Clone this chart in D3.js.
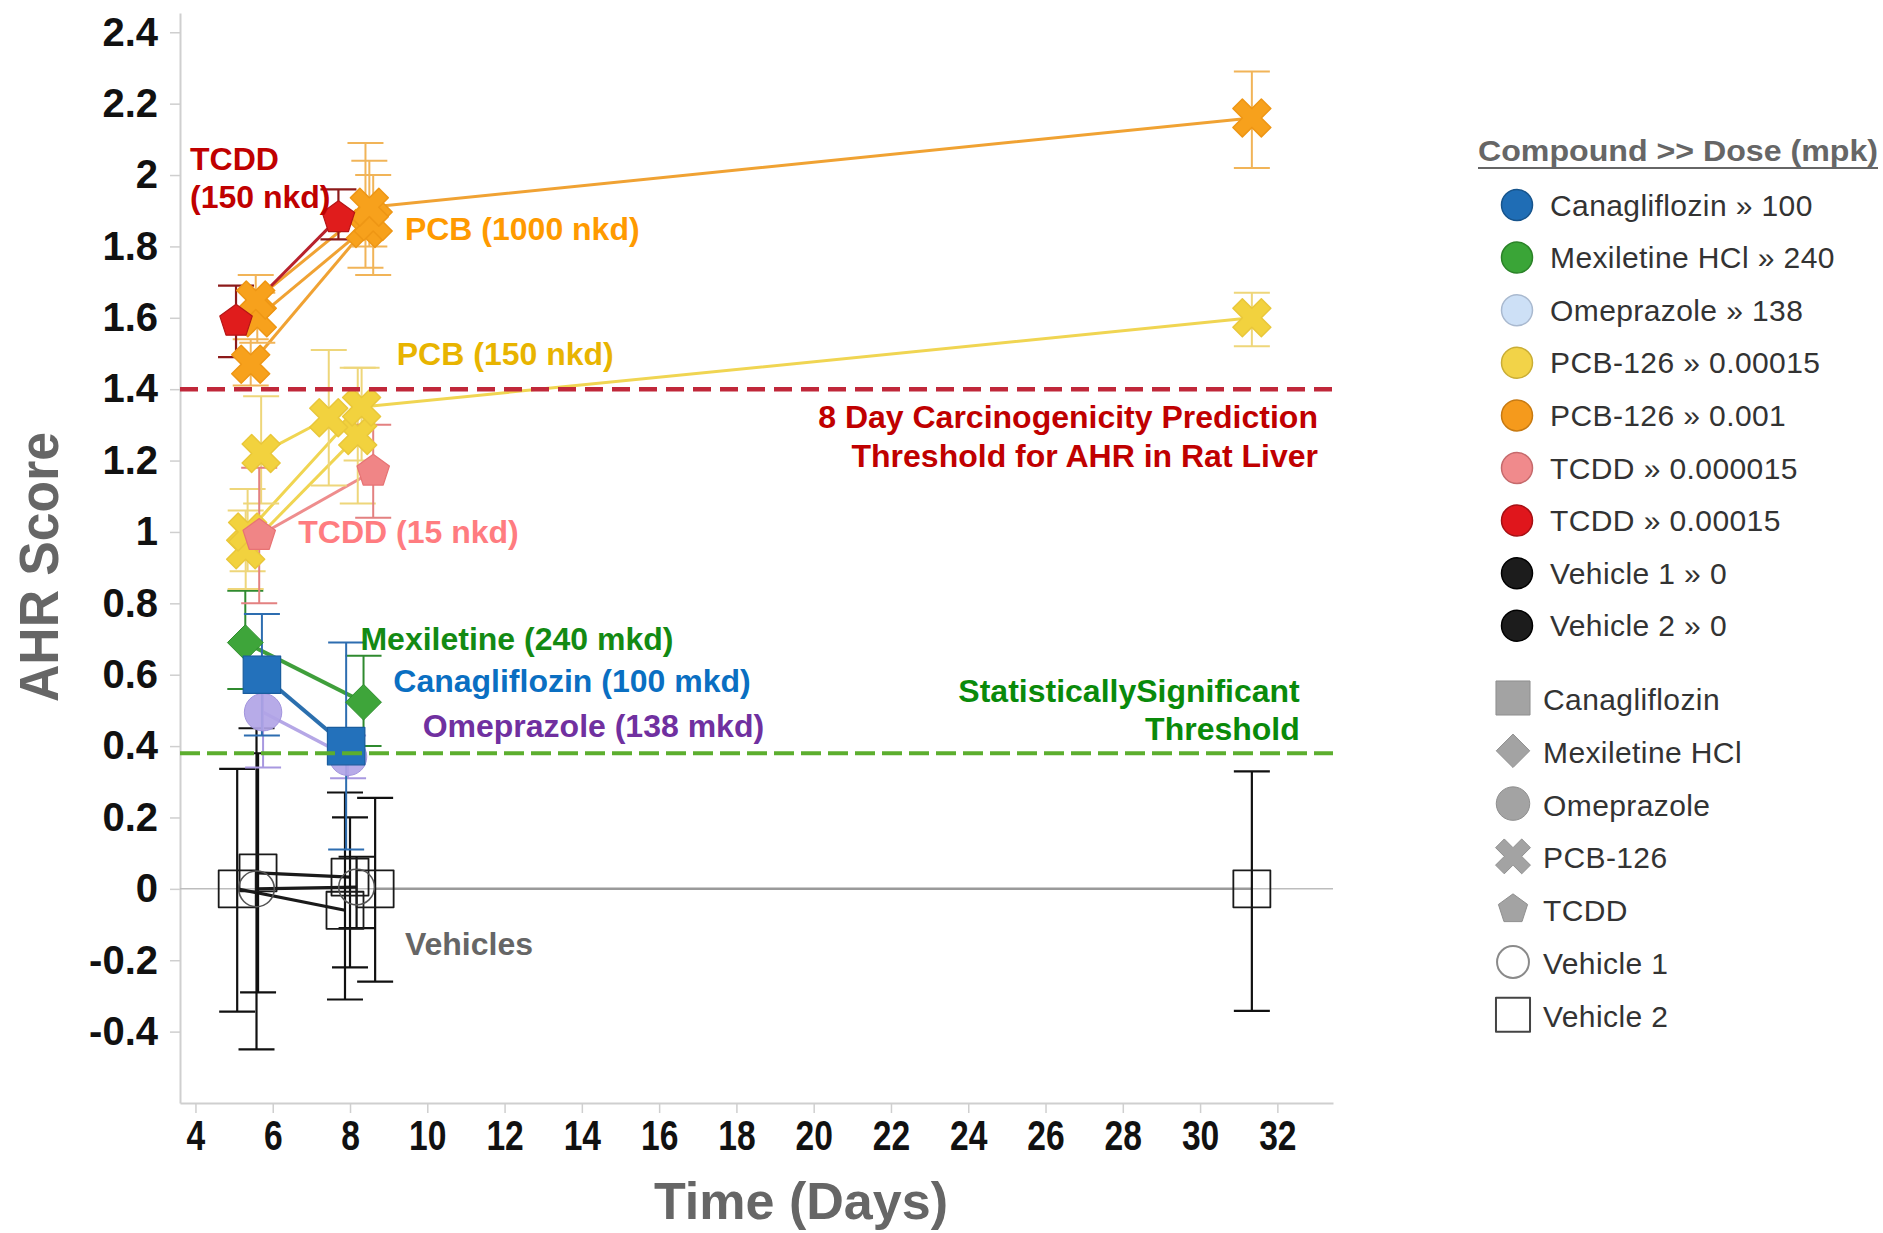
<!DOCTYPE html>
<html>
<head>
<meta charset="utf-8">
<script src="https://cdn.jsdelivr.net/npm/d3@7"></script>
<style>
  body { margin: 0; background: #fff; }
  svg { display: block; }
</style>
</head>
<body>
<svg id="chart" width="1883" height="1233"></svg>
<script>
// ---- Data: each point is [day, AHR score, error low, error high] ----
const dayTicks = [4, 6, 8, 10, 12, 14, 16, 18, 20, 22, 24, 26, 28, 30, 32];
const scoreTicks = [-0.4, -0.2, 0, 0.2, 0.4, 0.6, 0.8, 1, 1.2, 1.4, 1.6, 1.8, 2, 2.2, 2.4];

const vehicle1 = [[5.58, 0.0, -0.45, 0.45], [8.17, 0.005, -0.11, 0.09]];
const vehicle2a = [[5.08, 0.0, -0.344, 0.336], [7.87, -0.06, -0.31, 0.27]];
const vehicle2b = [[5.62, 0.045, -0.29, 0.38], [8.0, 0.033, -0.22, 0.20]];
const vehicle2c = [[8.65, 0.0, -0.26, 0.255], [31.34, 0.0, -0.342, 0.329]];
const omeprazole = [[5.75, 0.495, 0.34, 0.65], [7.95, 0.37, 0.31, 0.43]];
const mexiletine = [[5.29, 0.69, 0.56, 0.835], [8.35, 0.523, 0.40, 0.653]];
const canagliflozin = [[5.72, 0.60, 0.43, 0.77], [7.9, 0.40, 0.11, 0.69]];
const pcb150a = [[5.35, 1.00, 0.89, 1.12], [8.3, 1.35, 1.20, 1.46], [31.34, 1.60, 1.52, 1.67]];
const pcb150b = [[5.7, 1.22, 1.08, 1.38], [7.45, 1.32, 1.13, 1.51]];
const pcb150c = [[5.3, 0.95, 0.84, 1.06], [8.2, 1.27, 1.08, 1.46]];
const tcdd150 = [[5.05, 1.59, 1.49, 1.69], [7.7, 1.88, 1.82, 1.96]];
const pcb1000a = [[5.56, 1.65, 1.58, 1.72], [8.5, 1.91, 1.80, 2.04], [31.34, 2.16, 2.02, 2.29]];
const pcb1000b = [[5.6, 1.60, 1.53, 1.67], [8.6, 1.87, 1.72, 2.00]];
const pcb1000c = [[5.43, 1.47, 1.41, 1.54], [8.4, 1.85, 1.74, 2.09]];
const tcdd15 = [[5.65, 0.99, 0.80, 1.18], [8.6, 1.17, 1.04, 1.30]];

const carcinogenicityThreshold = 1.4;
const significanceThreshold = 0.38;

const legendDoseNames = ["Canagliflozin \u00bb 100", "Mexiletine HCl \u00bb 240", "Omeprazole \u00bb 138",
  "PCB-126 \u00bb 0.00015", "PCB-126 \u00bb 0.001", "TCDD \u00bb 0.000015", "TCDD \u00bb 0.00015",
  "Vehicle 1 \u00bb 0", "Vehicle 2 \u00bb 0"];
const legendShapeNames = ["Canagliflozin", "Mexiletine HCl", "Omeprazole", "PCB-126", "TCDD", "Vehicle 1", "Vehicle 2"];

// ---- Custom marker shapes ----
const symbolX = {
  draw(ctx, size) {
    const r = Math.sqrt(size / 5) / 2, c = Math.SQRT1_2;
    const pts = [[-3*r,-r],[-r,-r],[-r,-3*r],[r,-3*r],[r,-r],[3*r,-r],[3*r,r],[r,r],[r,3*r],[-r,3*r],[-r,r],[-3*r,r]];
    pts.forEach(([px, py], i) => {
      const rx = (px - py) * c, ry = (px + py) * c;
      i ? ctx.lineTo(rx, ry) : ctx.moveTo(rx, ry);
    });
    ctx.closePath();
  }
};
const symbolRhombus = {
  draw(ctx, size) {
    const h = Math.sqrt(size / 2);
    ctx.moveTo(0, -h); ctx.lineTo(h, 0); ctx.lineTo(0, h); ctx.lineTo(-h, 0); ctx.closePath();
  }
};
const symbolPentagon = {
  draw(ctx, size) {
    const R = Math.sqrt(size / 2.3776);
    for (let i = 0; i < 5; i++) {
      const a = -Math.PI / 2 + i * 2 * Math.PI / 5;
      i ? ctx.lineTo(R * Math.cos(a), R * Math.sin(a)) : ctx.moveTo(R * Math.cos(a), R * Math.sin(a));
    }
    ctx.closePath();
  }
};

// ---- Styles ----
const st = {
  veh1:  { shape: d3.symbolCircle, size: 1000, fill: "none", stroke: "#555", sw: 1.6, line: "#1a1a1a", lw: 3.2, err: "#111", ew: 2.2 },
  veh2:  { shape: d3.symbolSquare, size: 1370, fill: "none", stroke: "#1a1a1a", sw: 1.8, line: "#1a1a1a", lw: 3.2, err: "#111", ew: 2.2 },
  veh2c: { shape: d3.symbolSquare, size: 1370, fill: "none", stroke: "#1a1a1a", sw: 1.8, line: "#9a9a9a", lw: 2.5, err: "#111", ew: 2.2 },
  ome:   { shape: d3.symbolCircle, size: 1100, fill: "#b1a4e6", stroke: "#a294dd", sw: 1, line: "#b5a7e6", lw: 3.5, err: "#a898e0", ew: 2, op: 0.92 },
  mex:   { shape: symbolRhombus, size: 640, fill: "#3ea53a", stroke: "#2e8e2e", sw: 1, line: "#3f9f3b", lw: 4, err: "#2f8a2f", ew: 2 },
  cana:  { shape: d3.symbolSquare, size: 1400, fill: "#2371bb", stroke: "#1a5d9e", sw: 1.2, line: "#2b6fae", lw: 4, err: "#2d6db0", ew: 2 },
  p150:  { shape: symbolX, size: 900, fill: "#f2d23e", stroke: "#e9c73a", sw: 1.5, line: "#f0d552", lw: 3, err: "#eed67a", ew: 2 },
  t150:  { shape: symbolPentagon, size: 690, fill: "#e01c1c", stroke: "#b51515", sw: 1.2, line: "#b8222c", lw: 3, err: "#8c1a1a", ew: 2.2 },
  p1000: { shape: symbolX, size: 900, fill: "#f7a11c", stroke: "#ee9614", sw: 1.5, line: "#f0a233", lw: 3, err: "#f1b458", ew: 2 },
  t15:   { shape: symbolPentagon, size: 690, fill: "#f08586", stroke: "#e77374", sw: 1.2, line: "#ee8d8d", lw: 3, err: "#e38181", ew: 2 }
};

const series = [
  [vehicle2a, st.veh2], [vehicle2b, st.veh2], [vehicle2c, st.veh2c], [vehicle1, st.veh1],
  [omeprazole, st.ome], [mexiletine, st.mex], [canagliflozin, st.cana],
  [pcb150c, st.p150], [pcb150a, st.p150], [pcb150b, st.p150],
  [pcb1000c, st.p1000], [pcb1000b, st.p1000], [pcb1000a, st.p1000], [tcdd150, st.t150],
  [tcdd15, st.t15]
];

// ---- Scales & axes ----
const svg = d3.select("#chart");
const x = d3.scaleLinear().domain([3.6, 33.44]).range([180, 1333]);
const y = d3.scaleLinear().domain([-0.6, 2.454]).range([1103, 13]);
const sansFont = "'Liberation Sans', Arial, sans-serif";

svg.append("g")
  .attr("transform", `translate(${x.range()[0]},0)`)
  .call(d3.axisLeft(y).tickValues(scoreTicks).tickSize(10).tickSizeOuter(0).tickPadding(12)
    .tickFormat(d => String(+d.toFixed(1))))
  .call(g => {
    g.attr("font-family", sansFont).attr("font-size", 40).attr("font-weight", "bold");
    g.select(".domain").attr("stroke", "#cfcfcf").attr("stroke-width", 2);
    g.selectAll(".tick line").attr("stroke", "#cfcfcf").attr("stroke-width", 1.5);
    g.selectAll(".tick text").attr("fill", "#111");
  });

// day labels use a narrowed bold face
svg.append("g")
  .attr("transform", `translate(0,${y.range()[0]})`)
  .call(d3.axisBottom(x).tickValues(dayTicks).tickSize(10).tickSizeOuter(0).tickPadding(7))
  .call(g => {
    g.attr("font-family", sansFont).attr("font-size", 42).attr("font-weight", "bold");
    g.select(".domain").attr("stroke", "#cfcfcf").attr("stroke-width", 2);
    g.selectAll(".tick line").attr("stroke", "#cfcfcf").attr("stroke-width", 1.5);
    g.selectAll(".tick text").attr("fill", "#111").attr("transform", "scale(0.8,1)");
  });

// axis titles
svg.append("text")
  .attr("transform", "translate(58,567) rotate(-90)")
  .attr("text-anchor", "middle")
  .attr("font-family", sansFont).attr("font-weight", "bold").attr("font-size", 56)
  .attr("fill", "#666")
  .attr("textLength", 270).attr("lengthAdjust", "spacingAndGlyphs")
  .text("AHR Score");
svg.append("text")
  .attr("x", 801).attr("y", 1219)
  .attr("text-anchor", "middle")
  .attr("font-family", sansFont).attr("font-weight", "bold").attr("font-size", 52)
  .attr("fill", "#666")
  .attr("textLength", 294).attr("lengthAdjust", "spacingAndGlyphs")
  .text("Time (Days)");

// zero reference line
svg.append("line")
  .attr("x1", x.range()[0]).attr("x2", x.range()[1])
  .attr("y1", y(0)).attr("y2", y(0))
  .attr("stroke", "#bdbdbd").attr("stroke-width", 1.5);

// ---- Series: connecting lines, error bars, markers ----
const lineGen = d3.line().x(d => x(d[0])).y(d => y(d[1]));
const capHalf = 18;

const gLines = svg.append("g");
const gErr = svg.append("g");
const gMarks = svg.append("g");

series.forEach(([data, s]) => {
  gLines.append("path").datum(data)
    .attr("d", lineGen).attr("fill", "none")
    .attr("stroke", s.line).attr("stroke-width", s.lw).attr("stroke-linejoin", "round");
});

series.forEach(([data, s]) => {
  const g = gErr.append("g").attr("stroke", s.err).attr("stroke-width", s.ew);
  data.forEach(d => {
    const cx = x(d[0]);
    g.append("line").attr("x1", cx).attr("x2", cx).attr("y1", y(d[2])).attr("y2", y(d[3]));
    g.append("line").attr("x1", cx - capHalf).attr("x2", cx + capHalf).attr("y1", y(d[2])).attr("y2", y(d[2]));
    g.append("line").attr("x1", cx - capHalf).attr("x2", cx + capHalf).attr("y1", y(d[3])).attr("y2", y(d[3]));
  });
});

series.forEach(([data, s]) => {
  gMarks.append("g").selectAll("path").data(data).join("path")
    .attr("transform", d => `translate(${x(d[0])},${y(d[1])})`)
    .attr("d", d3.symbol().type(s.shape).size(s.size))
    .attr("fill", s.fill)
    .attr("fill-opacity", s.op || 1)
    .attr("stroke", s.stroke).attr("stroke-width", s.sw)
    .attr("stroke-linejoin", "round");
});

// ---- Threshold lines ----
svg.append("line")
  .attr("x1", x.range()[0]).attr("x2", x.range()[1])
  .attr("y1", y(carcinogenicityThreshold)).attr("y2", y(carcinogenicityThreshold))
  .attr("stroke", "#c0283a").attr("stroke-width", 4.5).attr("stroke-dasharray", "18 9");
svg.append("line")
  .attr("x1", x.range()[0]).attr("x2", x.range()[1])
  .attr("y1", y(significanceThreshold)).attr("y2", y(significanceThreshold))
  .attr("stroke", "#5cae2e").attr("stroke-width", 4).attr("stroke-dasharray", "20 7");

// ---- Annotations (positioned in data units) ----
const notes = [
  { t: "TCDD", d: 3.858, s: 2.014, c: "#c00000" },
  { t: "(150 nkd)", d: 3.858, s: 1.907, c: "#c00000" },
  { t: "PCB (1000 nkd)", d: 9.42, s: 1.818, c: "#ff9a00" },
  { t: "PCB (150 nkd)", d: 9.21, s: 1.468, c: "#e8b400" },
  { t: "TCDD (15 nkd)", d: 6.66, s: 0.968, c: "#ff7c80" },
  { t: "Mexiletine (240 mkd)", d: 8.27, s: 0.669, c: "#138a13" },
  { t: "Canagliflozin (100 mkd)", d: 9.12, s: 0.552, c: "#0a6fc2" },
  { t: "Omeprazole (138 mkd)", d: 9.88, s: 0.425, c: "#7030a0" },
  { t: "Vehicles", d: 9.42, s: -0.185, c: "#666666" },
  { t: "8 Day Carcinogenicity Prediction", d: 33.05, s: 1.291, c: "#c00000", end: true },
  { t: "Threshold for AHR in Rat Liver", d: 33.05, s: 1.182, c: "#c00000", end: true },
  { t: "StatisticallySignificant", d: 32.58, s: 0.524, c: "#0a8a0a", end: true },
  { t: "Threshold", d: 32.58, s: 0.417, c: "#0a8a0a", end: true }
];
svg.append("g").selectAll("text").data(notes).join("text")
  .attr("x", d => x(d.d)).attr("y", d => y(d.s))
  .attr("text-anchor", d => d.end ? "end" : "start")
  .attr("font-family", sansFont).attr("font-weight", "bold").attr("font-size", 32)
  .attr("fill", d => d.c)
  .text(d => d.t);

// ---- Legend ----
const legend = svg.append("g").attr("font-family", sansFont);
legend.append("text")
  .attr("x", 1478).attr("y", 161)
  .attr("font-weight", "bold").attr("font-size", 30).attr("fill", "#666")
  .attr("textLength", 400).attr("lengthAdjust", "spacingAndGlyphs")
  .text("Compound >> Dose (mpk)");
legend.append("line")
  .attr("x1", 1478).attr("x2", 1878).attr("y1", 168).attr("y2", 168)
  .attr("stroke", "#666").attr("stroke-width", 2.2);

const doseColors = ["#1f6db5", "#3aa537", "#cde0f6", "#f2d348", "#f59a1c", "#f08a8c", "#e0161c", "#1c1c1c", "#1c1c1c"];
const doseStroke = ["#17548c", "#2b8328", "#a9b9cf", "#c9ad35", "#c77a12", "#c56a6c", "#a51014", "#000", "#000"];
const doseRow = legend.append("g").selectAll("g").data(legendDoseNames).join("g")
  .attr("transform", (d, i) => `translate(1517,${205 + i * 52.6})`);
doseRow.append("circle").attr("r", 15.5)
  .attr("fill", (d, i) => doseColors[i]).attr("stroke", (d, i) => doseStroke[i]).attr("stroke-width", 1.5);
doseRow.append("text").attr("x", 33).attr("y", 10.5)
  .attr("font-size", 30).attr("fill", "#333").attr("letter-spacing", 0.4)
  .text(d => d);

const shapeTypes = [d3.symbolSquare, symbolRhombus, d3.symbolCircle, symbolX, symbolPentagon, d3.symbolCircle, d3.symbolSquare];
const shapeSizes = [1160, 560, 880, 760, 560, 800, 1160];
const shapeRow = legend.append("g").selectAll("g").data(legendShapeNames).join("g")
  .attr("transform", (d, i) => `translate(1513,${698 + i * 52.8})`);
shapeRow.append("path")
  .attr("d", (d, i) => d3.symbol().type(shapeTypes[i]).size(shapeSizes[i])())
  .attr("fill", (d, i) => i < 5 ? "#a3a3a3" : "#fff")
  .attr("stroke", (d, i) => i < 5 ? "#8f8f8f" : (i === 5 ? "#8a8a8a" : "#444"))
  .attr("stroke-width", (d, i) => i < 5 ? 1 : 2)
  .attr("stroke-linejoin", "round");
shapeRow.append("text").attr("x", 30).attr("y", 12)
  .attr("font-size", 30).attr("fill", "#333").attr("letter-spacing", 0.4)
  .text(d => d);
</script>
</body>
</html>
